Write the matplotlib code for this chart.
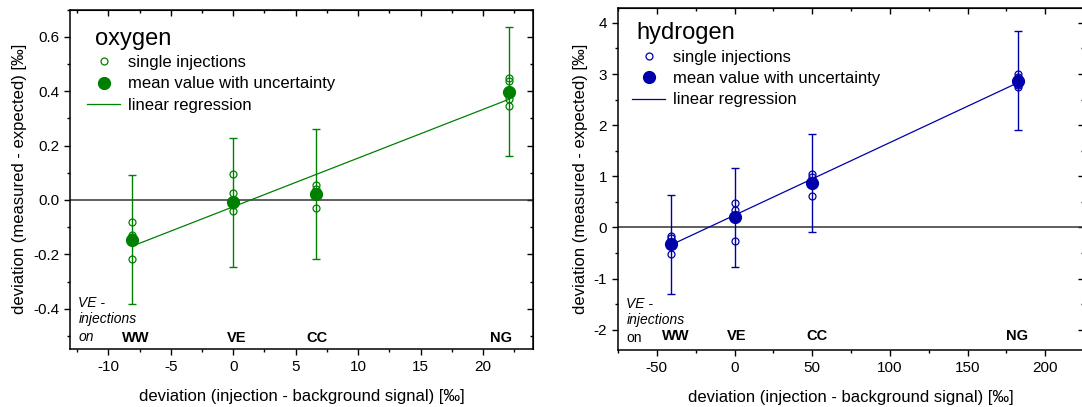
import numpy as np
import matplotlib
matplotlib.use("Agg")
import matplotlib.pyplot as plt
from matplotlib.lines import Line2D
from matplotlib.ticker import MultipleLocator, FuncFormatter

plt.rcParams['font.family'] = ['Liberation Sans', 'DejaVu Sans']
plt.rcParams['axes.unicode_minus'] = False

labels = ["WW", "VE", "CC", "NG"]

# oxygen
o_x = [-8.1, 0.0, 6.62, 22.05]
o_mean = [-0.147, -0.009, 0.022, 0.398]
o_err = [0.237, 0.237, 0.238, 0.237]
o_single_x = [-8.1, -8.1, -8.1, -8.1, 0.0, 0.0, 0.0, 0.0, 6.62, 6.62, 6.62, 6.62,
              22.05, 22.05, 22.05, 22.05]
o_single_y = [-0.082, -0.129, -0.137, -0.217, 0.096, 0.025, -0.02, -0.04,
              0.055, 0.04, 0.015, -0.029, 0.448, 0.436, 0.372, 0.346]
o_fit = (0.0179, -0.025)
o_label_x = [-7.8, 0.3, 6.7, 21.4]

# hydrogen
h_x = [-41.1, 0.0, 50.0, 182.3]
h_mean = [-0.327, 0.196, 0.87, 2.866]
h_err = [0.97, 0.965, 0.965, 0.97]
h_single_x = [-41.1, -41.1, -41.1, 0.0, 0.0, 0.0, 50.0, 50.0, 50.0,
              182.3, 182.3, 182.3, 182.3]
h_single_y = [-0.164, -0.2, -0.517, 0.484, 0.347, -0.268, 1.04, 0.99, 0.615,
              3.0, 2.945, 2.79, 2.74]
h_fit = (0.0142, 0.24)
h_label_x = [-37.7, 1.2, 52.8, 181.7]

fig = plt.figure(figsize=(10.82, 4.07), dpi=100)


def setup(ax, xlim, ylim, xmaj, xmin, ymaj, ymin):
    ax.set_xlim(*xlim)
    ax.set_ylim(*ylim)
    for s in ax.spines.values():
        s.set_linewidth(1.1)
    ax.xaxis.set_major_locator(MultipleLocator(xmaj))
    ax.xaxis.set_minor_locator(MultipleLocator(xmin))
    ax.yaxis.set_major_locator(MultipleLocator(ymaj))
    ax.yaxis.set_minor_locator(MultipleLocator(ymin))
    ax.tick_params(which='major', direction='out', length=4.3, width=1.0, labelsize=11)
    ax.tick_params(which='minor', direction='out', length=2.2, width=1.0)
    top = ax.secondary_xaxis('top')
    top.xaxis.set_major_locator(MultipleLocator(xmaj))
    top.xaxis.set_minor_locator(MultipleLocator(xmin))
    top.tick_params(which='major', direction='in', length=4.3, width=1.0, labeltop=False)
    top.tick_params(which='minor', direction='in', length=2.2, width=1.0)
    right = ax.secondary_yaxis('right')
    right.yaxis.set_major_locator(MultipleLocator(ymaj))
    right.yaxis.set_minor_locator(MultipleLocator(ymin))
    right.tick_params(which='major', direction='in', length=4.3, width=1.0, labelright=False)
    right.tick_params(which='minor', direction='in', length=2.2, width=1.0)
    ax.set_xlabel("deviation (injection - background signal) [‰]", fontsize=12, labelpad=11)
    ax.set_ylabel("deviation (measured - expected) [‰]", fontsize=12, labelpad=4)


def draw(ax, color, x, mean, err, sx, sy, fit, title, lab_x, lab_y,
         title_pos, leg_pos, on_italic):
    ax.axhline(0, color='#333333', lw=1.1, zorder=1)
    xs = np.array([min(x), max(x)])
    ax.plot(xs, fit[0] * xs + fit[1], color=color, lw=0.9, zorder=2)
    ax.errorbar(x, mean, yerr=err, fmt='none', ecolor=color, elinewidth=1.0,
                capsize=2.8, capthick=1.0, zorder=3)
    ax.plot(sx, sy, ls='none', marker='o', ms=5, mfc='none', mec=color, mew=0.9, zorder=4)
    ax.plot(x, mean, ls='none', marker='o', ms=8.5, color=color, zorder=5)
    for lx, t in zip(lab_x, labels):
        ax.text(lx, lab_y, t, ha='center', va='center', fontsize=10.5, fontweight='bold')
    ax.text(title_pos[0], title_pos[1], title, transform=ax.transAxes, fontsize=17,
            ha='left', va='center')
    handles = [Line2D([], [], ls='none', marker='o', ms=5, mfc='none', mec=color, mew=0.9),
               Line2D([], [], ls='none', marker='o', ms=8.5, color=color),
               Line2D([], [], color=color, lw=0.9)]
    ax.legend(handles, ["single injections", "mean value with uncertainty",
                        "linear regression"],
              fontsize=12, loc='upper left', bbox_to_anchor=leg_pos, frameon=False,
              handlelength=2.0, handletextpad=0.45, labelspacing=0.38,
              borderaxespad=0.0, borderpad=0.0)
    ax.text(0.018, 0.135, "VE -", transform=ax.transAxes, fontsize=10, style='italic',
            va='center', ha='left')
    ax.text(0.018, 0.087, "injections", transform=ax.transAxes, fontsize=10,
            style='italic', va='center', ha='left')
    ax.text(0.018, 0.035, "on", transform=ax.transAxes, fontsize=10,
            style='italic' if on_italic else 'normal', va='center', ha='left')


ax1 = fig.add_axes([0.0647, 0.1425, 0.4279, 0.834])
setup(ax1, (-13.07, 24.0), (-0.548, 0.70), 5, 2.5, 0.2, 0.1)
draw(ax1, '#008000', o_x, o_mean, o_err, o_single_x, o_single_y, o_fit, "oxygen",
     o_label_x, -0.506, (0.054, 0.914), (0.037, 0.866), True)
ax1.yaxis.set_major_formatter(FuncFormatter(lambda v, p: f"{v:.1f}"))

ax2 = fig.add_axes([0.5712, 0.140, 0.4307, 0.8403])
setup(ax2, (-75, 225), (-2.395, 4.29), 50, 25, 1, 0.5)
draw(ax2, '#0000AA', h_x, h_mean, h_err, h_single_x, h_single_y, h_fit, "hydrogen",
     h_label_x, -2.12, (0.039, 0.927), (0.030, 0.878), False)

fig.savefig("out.png", dpi=100)
